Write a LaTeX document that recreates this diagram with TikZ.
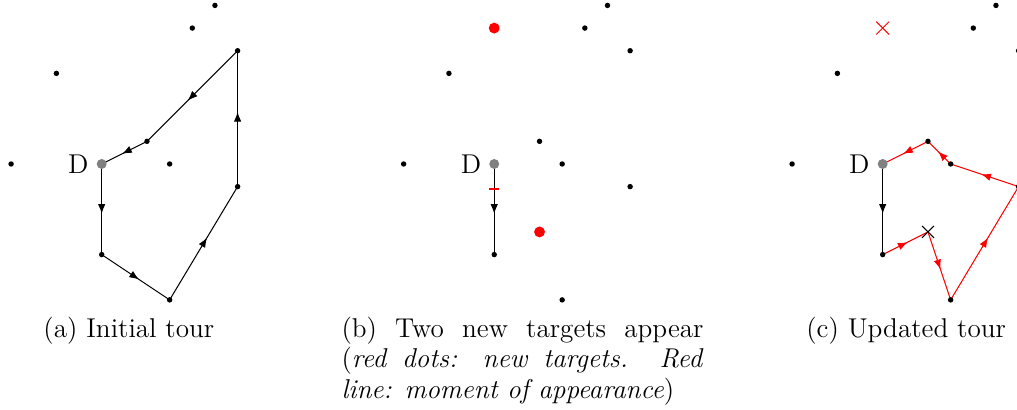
\documentclass[tikz,border=0pt]{standalone}
\usetikzlibrary{decorations.markings,arrows.meta,shapes.misc}
\begin{document}
\begin{tikzpicture}[x=10pt,y=10pt,
  every node/.style={font=\fontsize{12}{12.05}\selectfont},
  tourarrow/.style={postaction={decorate},decoration={markings,
     mark=at position 0.55 with {\arrow{Latex[length=4.3pt,width=3.3pt]}}}},
  edge/.style={line width=0.45pt,tourarrow},
  newedge/.style={edge,red},
  target/.style={fill=black},
  depot/.style={fill=gray},
  newtarget/.style={fill=red},
  xmark/.style={cross out,draw,inner sep=0pt,minimum size=5pt,line width=0.45pt},
  caption/.style={anchor=base west,inner sep=0pt}]
\useasboundingbox (-4.49,-10.86) rectangle (40.41,7.24);
\clip (-4.49,-10.86) rectangle (40.41,7.24);

\foreach \p/\ox in {a/0,b/17.33,c/34.48}{
  \coordinate (\p-D)  at (\ox,0);
  \coordinate (\p-P1) at (\ox+5,7);
  \coordinate (\p-P2) at (\ox+4,6);
  \coordinate (\p-P3) at (\ox+6,5);
  \coordinate (\p-P4) at (\ox-2,4);
  \coordinate (\p-P5) at (\ox+2,1);
  \coordinate (\p-P6) at (\ox-4,0);
  \coordinate (\p-P7) at (\ox+3,0);
  \coordinate (\p-P8) at (\ox+6,-1);
  \coordinate (\p-P9) at (\ox,-4);
  \coordinate (\p-P10) at (\ox+3,-6);
  \coordinate (\p-N1) at (\ox,6);
  \coordinate (\p-N2) at (\ox+2,-3);
}

% (a) initial tour
\draw[edge] (a-D) -- (a-P9);
\draw[edge] (a-P9) -- (a-P10);
\draw[edge] (a-P10) -- (a-P8);
\draw[edge] (a-P8) -- (a-P3);
\draw[edge] (a-P3) -- (a-P5);
\draw[edge] (a-P5) -- (a-D);

% (b) new targets appear
\draw[edge] (b-D) -- (b-P9);
\coordinate (b-T1) at (17.33-0.22,-1.12);
\coordinate (b-T2) at (17.33+0.22,-1.12);
\draw[red,line width=0.9pt] (b-T1) -- (b-T2);

% (c) updated tour
\draw[edge] (c-D) -- (c-P9);
\draw[newedge] (c-P9) -- (c-N2);
\draw[newedge] (c-N2) -- (c-P10);
\draw[newedge] (c-P10) -- (c-P8);
\draw[newedge] (c-P8) -- (c-P7);
\draw[newedge] (c-P7) -- (c-P5);
\draw[newedge] (c-P5) -- (c-D);

% dots
\foreach \p in {a,b,c}{
  \foreach \q in {P1,P2,P3,P4,P5,P6,P7,P8,P9,P10}{
    \fill[target] (\p-\q) circle (1.2pt);
  }
  \fill[depot] (\p-D) circle (2.2pt);
  \node[anchor=east,inner sep=0pt] (\p-Dlabel) at ([xshift=-5.6pt]\p-D) {D};
}
\fill[newtarget] (b-N1) circle (2.4pt);
\fill[newtarget] (b-N2) circle (2.4pt);
\node[xmark,red,minimum size=5.2pt] (c-X1) at (c-N1) {};
\node[xmark,black,minimum size=4.8pt] (c-X2) at (c-N2) {};

% captions
\node[caption] (capa) at (-2.59,-7.64) {(a) Initial tour};
\node[caption] (capb) at (10.57,-7.64)
  {\parbox[t]{159.8pt}{\fontsize{12}{13.5}\selectfont
   (b) Two new targets appear\linebreak
   (\textit{red dots: new targets. Red}\linebreak
   \textit{line: moment of appearance})}};
\node[caption] (capc) at (31.09,-7.64) {(c) Updated tour};
\end{tikzpicture}
\end{document}
